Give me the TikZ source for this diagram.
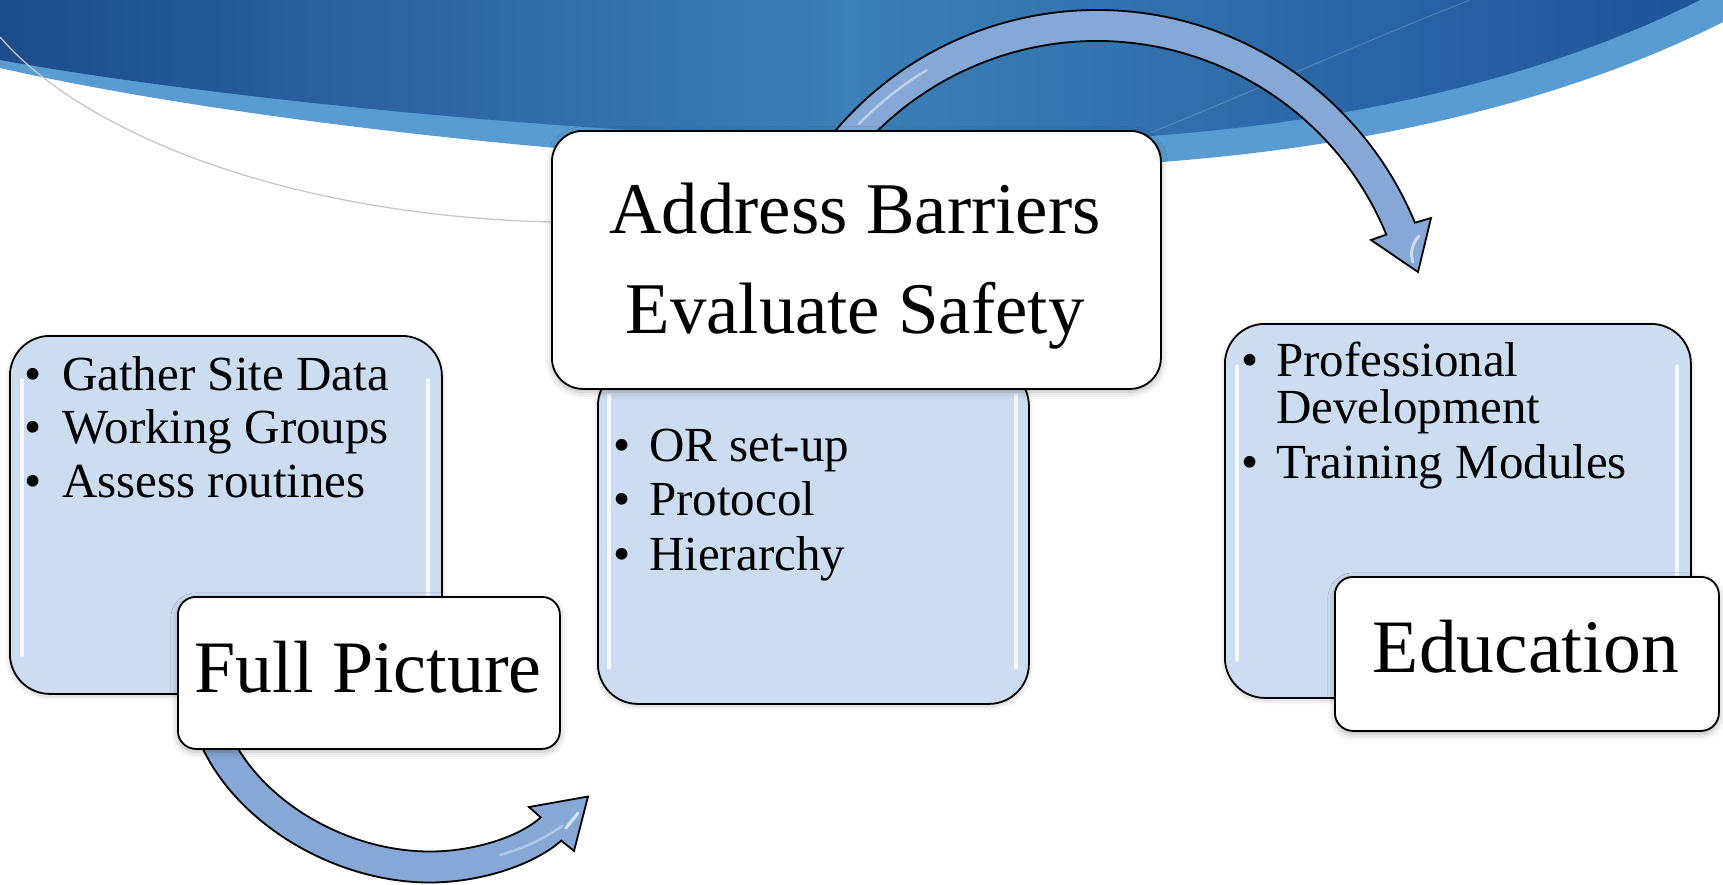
\documentclass[tikz,border=0pt]{standalone}
\usepackage{fontspec}
\setmainfont{Liberation Serif}
\usetikzlibrary{shadows.blur}

\definecolor{bandDark}{RGB}{28,76,140}
\definecolor{bandMid}{RGB}{60,128,184}
\definecolor{bandRight}{RGB}{30,84,154}
\definecolor{bandLight}{RGB}{88,156,210}
\definecolor{panelBlue}{RGB}{205,221,241}
\definecolor{arrowBlue}{RGB}{134,168,215}

\begin{document}
\begin{tikzpicture}[x=1pt,y=1pt,
  panel/.style={draw=black, line width=1.8pt, fill=panelBlue, rounded corners=40pt,
    inner sep=0pt, anchor=north west,
    blur shadow={shadow xshift=0pt, shadow yshift=-2pt, shadow blur radius=5pt, shadow opacity=22}},
  labelbox/.style={draw=black, line width=1.8pt, fill=white, inner sep=0pt, anchor=north west,
    blur shadow={shadow xshift=0pt, shadow yshift=-3pt, shadow blur radius=7pt, shadow opacity=30}},
  gloss/.style={draw=white, line width=3.5pt, line cap=round, opacity=0.8},
  arrowshape/.style={fill=arrowBlue, draw=black, line width=1.8pt, line join=miter},
  item/.style={anchor=base west, inner sep=0pt, font=\fontsize{49}{54}\selectfont},
  head/.style={anchor=base, inner sep=0pt}
]
\useasboundingbox (0,0) rectangle (1723,-884);

% ---- header band ----
\fill[bandLight] (0,0) -- (1723,0) -- (1723,-22)
  .. controls (1520,-125) and (1250,-168) .. (1000,-168)
  .. controls (700,-172) and (250,-125) .. (0,-68) -- cycle;
\shade[left color=bandDark, right color=bandRight, middle color=bandMid]
  (0,0) -- (1700,0)
  .. controls (1500,-100) and (1250,-140) .. (1000,-142)
  .. controls (700,-145) and (250,-105) .. (0,-60) -- cycle;
\draw[white, opacity=0.18, line width=1pt] (1150,-133) .. controls (1280,-80) and (1380,-35) .. (1470,0);
\draw[black!22, line width=1.3pt] (0,-37) .. controls (80,-130) and (280,-215) .. (551,-222) -- (620,-224);

% ---- curved arrow over the middle step ----
\coordinate (topC) at (1097,-354);
\path[arrowshape] (topC) ++(141:344) arc[start angle=141, end angle=22.43, radius=344]
  -- (1431,-218) -- (1418,-272) -- (1371,-240)
  -- ([shift={(22.43:313)}]topC) arc[start angle=22.43, end angle=141, radius=313] -- cycle;
\draw[white, opacity=0.45, line width=2.5pt, line cap=round]
  ([shift={(136:331)}]topC) arc[start angle=136, end angle=121, radius=331];
\draw[white, opacity=0.6, line width=3pt, line cap=round] (1419,-236) .. controls (1412,-244) and (1410,-252) .. (1413,-262);

% ---- curved arrow under the first step ----
\path[arrowshape] (200.8,-744.3) .. controls (236,-823.3) and (334,-882.5) .. (430,-882.5)
  .. controls (479,-882.5) and (533,-865.6) .. (561.3,-840.6)
  -- (574,-851) -- (588,-796.5) -- (529,-807) -- (540.7,-817.4)
  .. controls (517,-838.4) and (471,-851.5) .. (430,-851.5)
  .. controls (346,-851.5) and (260,-800.7) .. (229.2,-731.7) -- cycle;
\draw[white, opacity=0.35, line width=2.5pt, line cap=round] (500,-855) .. controls (525,-848) and (545,-838) .. (562,-826);
\draw[white, opacity=0.7, line width=3pt, line cap=round] (566,-828) -- (578,-813);

% ---- content panels ----
\node[panel, minimum width=432pt, minimum height=358pt] (panelA) at (9,-335) {};
\node[panel, minimum width=431pt, minimum height=338pt] (panelB) at (597,-365) {};
\node[panel, minimum width=466pt, minimum height=374pt] (panelC) at (1224,-323) {};

\draw[gloss] (22,-380) -- (22,-655);
\draw[gloss] (428,-380) -- (428,-655);
\draw[gloss] (609,-395) -- (609,-668);
\draw[gloss] (1016,-395) -- (1016,-668);
\draw[gloss] (1237,-366) -- (1237,-660);
\draw[gloss] (1677,-366) -- (1677,-660);

% ---- title boxes ----
\node[labelbox, rounded corners=18pt, minimum width=382pt, minimum height=152pt] (labelA) at (177,-596) {};
\node[labelbox, rounded corners=31pt, minimum width=609pt, minimum height=258pt] (labelB) at (551,-130) {};
\node[labelbox, rounded corners=18pt, minimum width=384pt, minimum height=154pt] (labelC) at (1334,-576) {};

\node[head, font=\fontsize{74}{86}\selectfont] (headA) at (368,-692) {Full Picture};
\node[head, font=\fontsize{72.8}{86}\selectfont] (headB1) at (855,-233) {Address Barriers};
\node[head, font=\fontsize{72.8}{86}\selectfont] (headB2) at (855,-333) {Evaluate Safety};
\node[head, font=\fontsize{75.5}{86}\selectfont] (headC) at (1526,-672) {Education};

% ---- bullet lists ----
\node[item] (bA1) at (24,-390) {•};
\node[item] (tA1) at (62,-390) {Gather Site Data};
\node[item] (bA2) at (24,-443.5) {•};
\node[item] (tA2) at (62,-443.5) {Working Groups};
\node[item] (bA3) at (24,-497) {•};
\node[item] (tA3) at (62,-497) {Assess routines};

\node[item] (bB1) at (613,-461) {•};
\node[item] (tB1) at (649,-461) {OR set-up};
\node[item] (bB2) at (613,-515) {•};
\node[item] (tB2) at (649,-515) {Protocol};
\node[item] (bB3) at (613,-570) {•};
\node[item] (tB3) at (649,-570) {Hierarchy};

\node[item] (bC1) at (1241,-376) {•};
\node[item] (tC1) at (1276,-376) {Professional};
\node[item] (tC1b) at (1276,-423) {Development};
\node[item] (bC2) at (1241,-478) {•};
\node[item] (tC2) at (1276,-478) {Training Modules};
\end{tikzpicture}
\end{document}
